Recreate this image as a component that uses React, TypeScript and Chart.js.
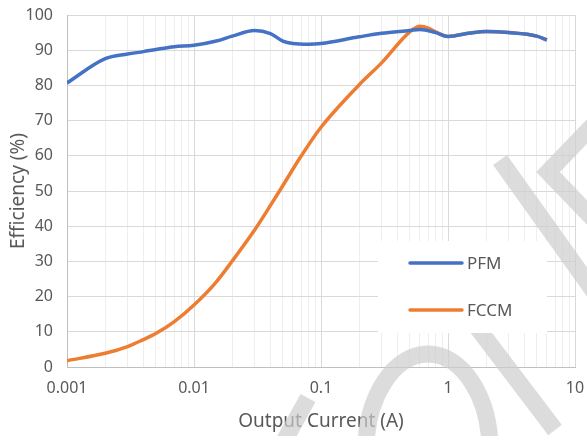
import React, { useEffect, useRef } from "react";
import { Chart, registerables } from "chart.js";

Chart.register(...registerables);

// ---- data ----
const pfmCurrent = [0.001, 0.002, 0.003, 0.004, 0.005, 0.007, 0.01, 0.015, 0.02, 0.03, 0.04, 0.05, 0.06, 0.08, 0.1, 0.2, 0.3, 0.5, 0.6, 0.8, 1, 1.5, 2, 3, 5, 6];
const pfmEfficiency = [80.7, 87.6, 88.9, 89.6, 90.2, 91.0, 91.4, 92.6, 94.0, 95.6, 94.7, 92.6, 91.9, 91.7, 91.9, 93.8, 94.8, 95.6, 95.9, 95.0, 93.9, 94.9, 95.3, 95.0, 94.0, 92.9];

const fccmCurrent = [0.001, 0.002, 0.003, 0.004, 0.005, 0.007, 0.01, 0.015, 0.02, 0.03, 0.04, 0.05, 0.07, 0.1, 0.2, 0.3, 0.5, 0.6, 0.7, 0.8, 1, 1.5, 2, 3, 5, 6];
const fccmEfficiency = [1.8, 3.9, 5.8, 7.8, 9.5, 12.9, 17.6, 24.2, 30.1, 38.9, 45.9, 51.5, 60.0, 68.1, 80.2, 86.4, 95.2, 96.8, 96.3, 95.2, 93.9, 94.9, 95.3, 95.0, 94.0, 92.9];

const seriesNames = ["PFM", "FCCM"];
const seriesColors = ["#4472C4", "#ED7D31"];
const xDecades = [0.001, 0.01, 0.1, 1, 10];
const xTickLabels = ["0.001", "0.01", "0.1", "1", "10"];
const xTitle = "Output Current (A)";
const yTitle = "Efficiency (%)";

const FONT = "'Noto Sans', 'DejaVu Sans', sans-serif";
const TEXT = "#595959";
const GRID_MAJOR = "#d9d9d9";
const GRID_MINOR = "#eeeeee";

function buildXTicks() {
  const ticks: { value: number; major: boolean }[] = [];
  for (let d = 0; d < xDecades.length; d++) {
    const base = xDecades[d];
    ticks.push({ value: base, major: true });
    if (d < xDecades.length - 1) {
      for (let m = 2; m <= 9; m++) ticks.push({ value: +(base * m).toPrecision(6), major: false });
    }
  }
  return ticks;
}

const watermarkPlugin = {
  id: "watermark",
  beforeDatasetsDraw(chart: any) {
    const ctx = chart.ctx;
    ctx.save();
    ctx.strokeStyle = "rgba(205,205,205,0.7)";
    ctx.lineWidth = 17;
    ctx.lineCap = "butt";
    const seg = (pts: number[][]) => {
      ctx.beginPath();
      ctx.moveTo(pts[0][0], pts[0][1]);
      for (let i = 1; i < pts.length; i++) ctx.lineTo(pts[i][0], pts[i][1]);
      ctx.stroke();
    };
    seg([[500, 160], [600, 300]]);
    seg([[600, 118], [548, 172], [600, 226]]);
    seg([[470, 318], [555, 430]]);
    seg([[308, 398], [282, 445]]);
    ctx.beginPath();
    ctx.ellipse(428, 450, 62, 96, 0, Math.PI, 2 * Math.PI);
    ctx.stroke();
    ctx.restore();
  },
};

const boxLegendPlugin = {
  id: "boxLegend",
  afterDatasetsDraw(chart: any) {
    const ctx = chart.ctx;
    ctx.save();
    ctx.fillStyle = "#ffffff";
    ctx.fillRect(378, 241, 169, 92);
    const rows = [263, 310];
    chart.data.datasets.forEach((ds: any, i: number) => {
      const y = rows[i];
      ctx.strokeStyle = ds.borderColor;
      ctx.lineWidth = 3.5;
      ctx.lineCap = "round";
      ctx.beginPath();
      ctx.moveTo(410, y);
      ctx.lineTo(462, y);
      ctx.stroke();
      ctx.fillStyle = TEXT;
      ctx.font = `17px ${FONT}`;
      ctx.textAlign = "left";
      ctx.textBaseline = "middle";
      ctx.fillText(ds.label, 467, y + 1);
    });
    ctx.restore();
  },
};

export default function App() {
  const ref = useRef<HTMLCanvasElement | null>(null);
  useEffect(() => {
    if (!ref.current) return;
    const chart = new Chart(ref.current, {
      type: "line",
      data: {
        datasets: [
          {
            label: seriesNames[0],
            data: pfmCurrent.map((x, i) => ({ x, y: pfmEfficiency[i] })),
            borderColor: seriesColors[0],
            backgroundColor: seriesColors[0],
            borderWidth: 3.5,
            pointRadius: 0,
            cubicInterpolationMode: "monotone",
          },
          {
            label: seriesNames[1],
            data: fccmCurrent.map((x, i) => ({ x, y: fccmEfficiency[i] })),
            borderColor: seriesColors[1],
            backgroundColor: seriesColors[1],
            borderWidth: 3.5,
            pointRadius: 0,
            cubicInterpolationMode: "monotone",
          },
        ],
      },
      options: {
        responsive: false,
        animation: false,
        layout: { padding: { top: 15, right: 12, left: 0, bottom: 0 } },
        plugins: { legend: { display: false }, tooltip: { enabled: false } },
        scales: {
          x: {
            type: "logarithmic",
            min: 0.001,
            max: 10,
            afterBuildTicks: (scale: any) => {
              scale.ticks = buildXTicks();
            },
            afterFit: (scale: any) => {
              scale.height = 69;
              scale.paddingLeft = 0;
              scale.paddingRight = 0;
            },
            ticks: {
              autoSkip: false,
              maxRotation: 0,
              padding: 12,
              color: TEXT,
              font: { family: FONT, size: 16 },
              callback: (value: any) => {
                const idx = xDecades.findIndex((d) => Math.abs(d - value) < d * 1e-6);
                return idx >= 0 ? xTickLabels[idx] : "";
              },
            },
            grid: {
              drawTicks: false,
              color: (c: any) => (c.tick && c.tick.major ? GRID_MAJOR : GRID_MINOR),
              lineWidth: 1,
            },
            border: { color: "#bfbfbf", width: 1 },
            title: {
              display: true,
              text: xTitle,
              color: TEXT,
              font: { family: FONT, size: 19 },
              padding: { top: 0, bottom: 3 },
            },
          },
          y: {
            min: 0,
            max: 100,
            afterFit: (scale: any) => {
              scale.width = 67;
              scale.paddingTop = 0;
              scale.paddingBottom = 0;
            },
            ticks: {
              stepSize: 5,
              padding: 14,
              color: TEXT,
              font: { family: FONT, size: 16 },
              callback: (value: any) => (Number(value) % 10 === 0 ? String(value) : ""),
            },
            grid: {
              drawTicks: false,
              color: (c: any) => (c.tick && c.tick.value % 10 === 0 ? GRID_MAJOR : GRID_MINOR),
              lineWidth: 1,
            },
            border: { color: "#bfbfbf", width: 1 },
            title: {
              display: true,
              text: yTitle,
              color: TEXT,
              font: { family: FONT, size: 19 },
              padding: { top: 7, bottom: 0 },
            },
          },
        },
      },
      plugins: [watermarkPlugin, boxLegendPlugin],
    } as any);
    return () => chart.destroy();
  }, []);
  return (
    <div style={{ position: "fixed", left: 0, top: 0, width: 587, height: 436, background: "#fff" }}>
      <canvas ref={ref} width={587} height={436} />
    </div>
  );
}
